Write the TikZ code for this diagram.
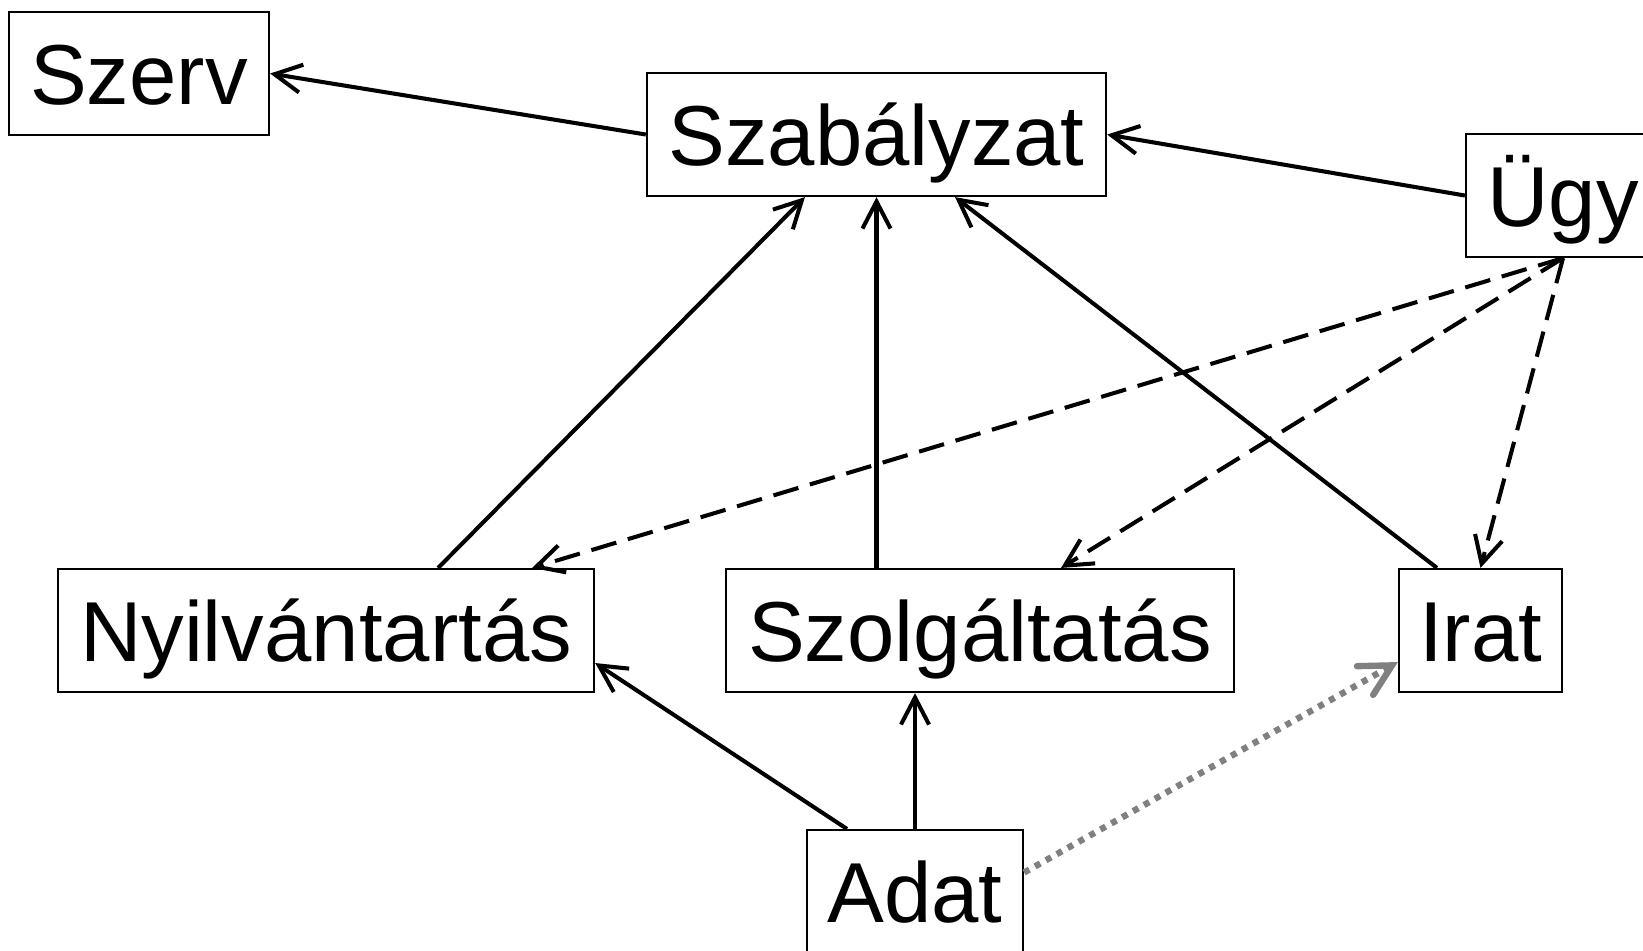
\documentclass[tikz,border=0pt]{standalone}
\usepackage{fontspec}
\setmainfont{Liberation Sans}
\usepackage{tikz}
\usetikzlibrary{arrows.meta}
\tikzstyle{box}=[draw=black, line width=0.6pt, rectangle, minimum height=1.23cm, text height=0.62cm, text depth=0cm, inner sep=0pt, font=\fontsize{24.2}{29}\selectfont]
\tikzstyle{arrow}=[draw=black, line width=1.15pt, -{Straight Barb[length=2.7mm, width=2.8mm]}]
\tikzstyle{dasharrow}=[arrow, dash pattern=on 0.26cm off 0.12cm]
\tikzstyle{dotarrow}=[draw=gray, line width=1.8pt, dash pattern=on 0.06cm off 0.065cm, -{Straight Barb[length=3.1mm, width=3.3mm, line cap=round]}]

\begin{document}
\begin{tikzpicture}[x=0.01cm, y=-0.01cm]
		   \useasboundingbox (0, 0) rectangle (1643, 950);
		   \begin{scope}
			   \node (szerv) at (139, 73.5)[box, minimum width=2.6cm] {Szerv};
			   \node (szab) at (876.5, 134.5)[box, minimum width=4.59cm] {Szabályzat};
			   \node (ugy) at (1563, 195.5)[box, minimum width=1.94cm] {Ügy};
			   \node (nyil) at (326, 630.5)[box, minimum width=5.36cm] {Nyilvántartás};
			   \node (szolg) at (980, 630.5)[box, minimum width=5.08cm] {Szolgáltatás};
			   \node (irat) at (1480.5, 630.5)[box, minimum width=1.63cm] {Irat};
			   \node (adat) at (915, 891.5)[box, minimum width=2.16cm] {Adat};
		   \end{scope}
		   \begin{scope}
			   \path (szab.west) edge [arrow] (szerv.east);
			   \path (ugy.west) edge [arrow] (szab.east);
			   \path ([xshift=1.12cm]nyil.north) edge [arrow] ([xshift=-0.715cm]szab.south);
			   \path (szolg.north -| szab.south) edge [arrow] (szab.south);
			   \path ([xshift=-0.435cm]irat.north) edge [arrow] ([xshift=0.785cm]szab.south);
			   \path (ugy.south) edge [dasharrow] ([xshift=2.06cm]nyil.north);
			   \path (ugy.south) edge [dasharrow] ([xshift=0.81cm]szolg.north);
			   \path (ugy.south) edge [dasharrow] (irat.north);
			   \path ([xshift=-0.68cm]adat.north) edge [arrow] ([yshift=-0.325cm]nyil.east);
			   \path (adat.north) edge [arrow] (adat.north |- szolg.south);
			   \path ([yshift=0.19cm]adat.east) edge [dotarrow] ([yshift=-0.315cm]irat.west);
		   \end{scope}
	   \end{tikzpicture}
\end{document}
